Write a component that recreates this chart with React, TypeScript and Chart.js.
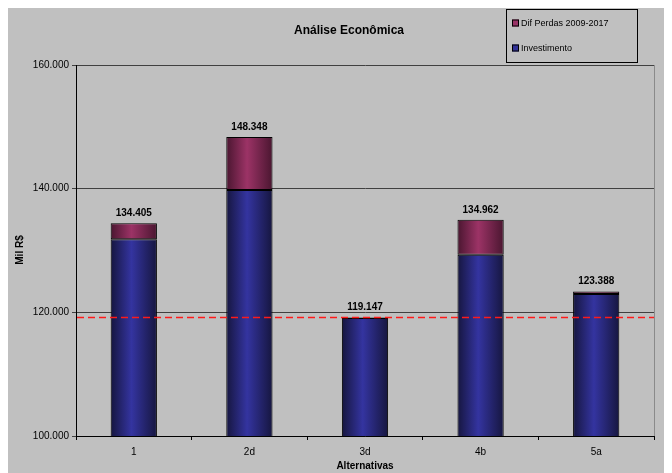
import React, { useEffect, useRef } from "react";
import { Chart, registerables } from "chart.js";

Chart.register(...registerables);

const categories = ["1", "2d", "3d", "4b", "5a"];
const investimento = [131800, 139800, 119100, 129300, 122950];
const difPerdas = [2605, 8548, 47, 5662, 438];
const yTickValues = [100000, 120000, 140000, 160000];
const referenceLine = 119147;
const chartTitle = "Análise Econômica";
const xTitle = "Alternativas";
const yTitle = "Mil R$";
const seriesNames = ["Investimento", "Dif Perdas 2009-2017"];

const FONT = "'Liberation Sans', Arial, sans-serif";
const BAR_PCT = 0.4;

const fmt = (n: number) =>
  Math.round(n)
    .toString()
    .replace(/\B(?=(\d{3})+(?!\d))/g, ".");

function barGradient(ctx: any, edge: string, mid: string) {
  const chart = ctx.chart;
  const xs = chart.scales?.x;
  if (ctx.type !== "data" || !chart.chartArea || !xs) return mid;
  const c = xs.getPixelForValue(ctx.dataIndex);
  const w = (xs.width / categories.length) * BAR_PCT;
  const g = chart.ctx.createLinearGradient(c - w / 2, 0, c + w / 2, 0);
  g.addColorStop(0, edge);
  g.addColorStop(0.45, mid);
  g.addColorStop(1, edge);
  return g;
}

const decorPlugin = {
  id: "decor",
  beforeDraw(chart: any) {
    const { ctx, width, height } = chart;
    ctx.save();
    ctx.fillStyle = "#c0c0c0";
    ctx.fillRect(0, 0, width, height);
    ctx.restore();
  },
  afterDatasetsDraw(chart: any) {
    const { ctx, chartArea } = chart;
    const ys = chart.scales.y;
    const xs = chart.scales.x;
    ctx.save();
    // reference line
    const yRef = ys.getPixelForValue(referenceLine);
    ctx.strokeStyle = "#ff1a1a";
    ctx.lineWidth = 1.5;
    ctx.setLineDash([7, 4]);
    ctx.beginPath();
    ctx.moveTo(chartArea.left + 1, yRef);
    ctx.lineTo(chartArea.right, yRef);
    ctx.stroke();
    ctx.setLineDash([]);
    // right border
    ctx.strokeStyle = "#8a8a8a";
    ctx.lineWidth = 1;
    ctx.beginPath();
    ctx.moveTo(chartArea.right + 0.5, chartArea.top);
    ctx.lineTo(chartArea.right + 0.5, chartArea.bottom);
    ctx.stroke();
    // data labels
    ctx.fillStyle = "#000";
    ctx.font = `bold 10px ${FONT}`;
    ctx.textAlign = "center";
    ctx.textBaseline = "bottom";
    categories.forEach((_, i) => {
      const total = investimento[i] + difPerdas[i];
      const x = xs.getPixelForValue(i);
      const y = ys.getPixelForValue(total);
      ctx.fillText(fmt(total), x, y - 5);
    });
    ctx.restore();
  },
  afterDraw(chart: any) {
    const { ctx, chartArea } = chart;
    ctx.save();
    ctx.fillStyle = "#000";
    // title
    ctx.font = `bold 12px ${FONT}`;
    ctx.textAlign = "center";
    ctx.textBaseline = "middle";
    ctx.fillText(chartTitle, 341, 23);
    // x title
    ctx.font = `bold 10px ${FONT}`;
    ctx.fillText(xTitle, (chartArea.left + chartArea.right) / 2, 458);
    // y title
    ctx.save();
    ctx.translate(12, 242);
    ctx.rotate(-Math.PI / 2);
    ctx.fillText(yTitle, 0, 0);
    ctx.restore();
    // legend
    const lx = 498, ly = 1, lw = 131, lh = 53;
    ctx.fillStyle = "#c0c0c0";
    ctx.fillRect(lx, ly, lw, lh);
    ctx.strokeStyle = "#000";
    ctx.lineWidth = 1;
    ctx.strokeRect(lx + 0.5, ly + 0.5, lw, lh);
    const items = [
      { name: seriesNames[1], color: "#993366", y: 15 },
      { name: seriesNames[0], color: "#333399", y: 40 },
    ];
    ctx.font = `9px ${FONT}`;
    ctx.textAlign = "left";
    items.forEach((it) => {
      ctx.fillStyle = it.color;
      ctx.fillRect(lx + 6, it.y - 3.5, 7, 7);
      ctx.strokeStyle = "#000";
      ctx.strokeRect(lx + 6.5, it.y - 3, 6, 6);
      ctx.fillStyle = "#000";
      ctx.fillText(it.name, lx + 15, it.y + 0.5);
    });
    ctx.restore();
  },
};

export default function App() {
  const ref = useRef<HTMLCanvasElement | null>(null);
  useEffect(() => {
    if (!ref.current) return;
    const chart = new Chart(ref.current, {
      type: "bar",
      data: {
        labels: categories,
        datasets: [
          {
            label: seriesNames[0],
            data: investimento,
            backgroundColor: (c: any) => barGradient(c, "#16163f", "#3434a0"),
            borderColor: "#000",
            borderWidth: 1,
            borderSkipped: false,
            categoryPercentage: 1,
            barPercentage: BAR_PCT,
          },
          {
            label: seriesNames[1],
            data: difPerdas,
            backgroundColor: (c: any) => barGradient(c, "#4a1630", "#9c3366"),
            borderColor: "#000",
            borderWidth: 1,
            borderSkipped: false,
            categoryPercentage: 1,
            barPercentage: BAR_PCT,
          },
        ],
      },
      options: {
        responsive: false,
        animation: false,
        devicePixelRatio: 1,
        layout: { padding: { top: 57, right: 18, left: 0, bottom: 0 } },
        plugins: {
          legend: { display: false },
          title: { display: false },
          tooltip: { enabled: false },
        },
        scales: {
          x: {
            stacked: true,
            offset: true,
            grid: {
              offset: true,
              drawOnChartArea: false,
              drawTicks: true,
              tickLength: 4,
              color: "#000",
            },
            border: { color: "#000", width: 1 },
            ticks: {
              color: "#000",
              font: { family: FONT, size: 10 },
              padding: 6,
            },
            afterFit: (s: any) => {
              s.height = 37;
            },
          },
          y: {
            stacked: true,
            min: 100000,
            max: 160000,
            afterBuildTicks: (s: any) => {
              s.ticks = yTickValues.map((v) => ({ value: v }));
            },
            grid: {
              color: "#404040",
              tickLength: 4,
              drawTicks: true,
            },
            border: { color: "#000", width: 1 },
            ticks: {
              color: "#000",
              font: { family: FONT, size: 10 },
              padding: 3,
              callback: (v: any) => fmt(Number(v)),
            },
            afterFit: (s: any) => {
              s.width = 68;
            },
          },
        },
      },
      plugins: [decorPlugin],
    });
    return () => chart.destroy();
  }, []);
  return (
    <div style={{ width: 664, height: 465 }}>
      <canvas ref={ref} width={664} height={465} style={{ display: "block" }} />
    </div>
  );
}
